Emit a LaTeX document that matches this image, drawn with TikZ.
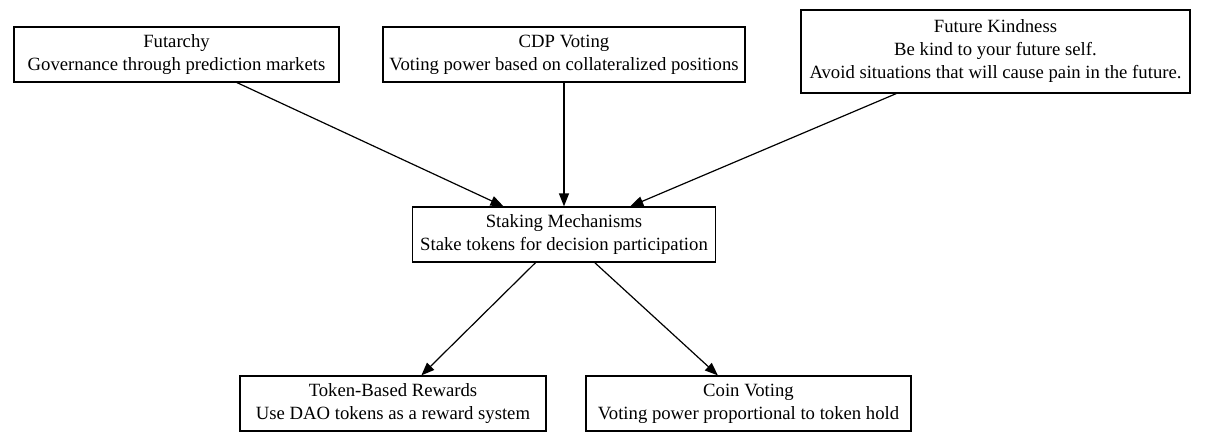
\documentclass[tikz,border=0pt]{standalone}
\usepackage{fontspec}
\setmainfont{Liberation Serif}
\usetikzlibrary{arrows.meta}
\begin{document}
\begin{tikzpicture}[x=1pt,y=-1pt,
  box/.style={draw, line width=1.2pt, align=center, inner sep=0pt,
    font=\fontsize{18.7}{23}\selectfont, minimum height=55pt},
  edge/.style={line width=1.2pt, -{Triangle[length=13pt,width=10pt]}}]
\useasboundingbox[fill=white] (0,0) rectangle (1207,447);
\node[box, minimum width=325pt] (fut) at (176.5,54.5) {Futarchy\\Governance through prediction markets};
\node[box, minimum width=362pt] (cdp) at (564,54.5) {CDP Voting\\Voting power based on collateralized positions};
\node[box, minimum width=389pt, minimum height=83pt] (fk) at (995.5,51.5) {Future Kindness\\Be kind to your future self.\\Avoid situations that will cause pain in the future.};
\node[box, minimum width=303pt] (stk) at (564,234.5) {Staking Mechanisms\\Stake tokens for decision participation};
\node[box, minimum width=306pt] (tok) at (393,403.5) {Token-Based Rewards\\Use DAO tokens as a reward system};
\node[box, minimum width=325pt] (coin) at (748.5,403.5) {Coin Voting\\Voting power proportional to token hold};
\draw[edge] (fut) -- (stk);
\draw[edge] (cdp) -- (stk);
\draw[edge] (fk) -- (stk);
\draw[edge] (stk) -- (tok);
\draw[edge] (stk) -- (coin);
\end{tikzpicture}
\end{document}
